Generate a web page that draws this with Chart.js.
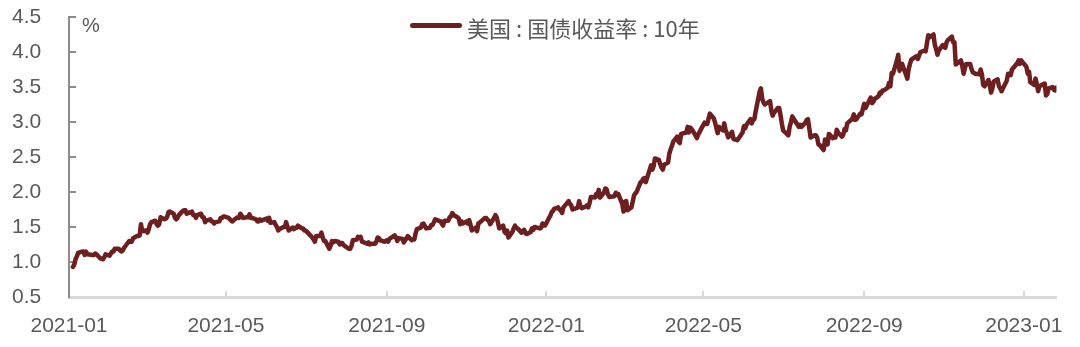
<!DOCTYPE html>
<html>
<head>
<meta charset="utf-8">
<script src="https://cdn.jsdelivr.net/npm/chart.js@4.4.0/dist/chart.umd.min.js"></script>
<style>
  html, body { margin: 0; padding: 0; background: #fff; }
  #wrap { position: relative; width: 1080px; height: 347px; }
  #legend { position: absolute; left: 410px; top: 12px; height: 30px; display: flex; align-items: center;
            font: 22px "Noto Sans CJK SC", sans-serif; color: #595959; white-space: nowrap; }
  #legend .swatch { display: inline-block; width: 52px; height: 5px; border-radius: 3px; background: #6d1f1f; margin-right: 5px; margin-top: -4px; }
  #legend .colon { margin: 0 5px; }
  #unit { position: absolute; left: 82px; top: 15px; font: 20px "Liberation Sans", sans-serif; line-height: 20px; color: #595959; }
</style>
</head>
<body>
<div id="wrap">
  <canvas id="chart" width="1080" height="347"></canvas>
  <div id="unit">%</div>
  <div id="legend"><span class="swatch"></span><span id="legendText"></span></div>
</div>
<script>
// series name + x-axis month labels
const seriesName = '美国:国债收益率:10年';
const tickLabels = ['2021-01', '2021-05', '2021-09', '2022-01', '2022-05', '2022-09', '2023-01'];
const yTicks = [0.5, 4.5, 0.5]; // min, max, step

// trading days (MM-DD) and 10y yields (%), one line per month
const dates2021 = [
  '01-04','01-05','01-06','01-07','01-08','01-11','01-12','01-13','01-14','01-15','01-19','01-20','01-21','01-22','01-25','01-26','01-27','01-28','01-29',
  '02-01','02-02','02-03','02-04','02-05','02-08','02-09','02-10','02-11','02-12','02-16','02-17','02-18','02-19','02-22','02-23','02-24','02-25','02-26',
  '03-01','03-02','03-03','03-04','03-05','03-08','03-09','03-10','03-11','03-12','03-15','03-16','03-17','03-18','03-19','03-22','03-23','03-24','03-25','03-26','03-29','03-30','03-31',
  '04-01','04-05','04-06','04-07','04-08','04-09','04-12','04-13','04-14','04-15','04-16','04-19','04-20','04-21','04-22','04-23','04-26','04-27','04-28','04-29','04-30',
  '05-03','05-04','05-05','05-06','05-07','05-10','05-11','05-12','05-13','05-14','05-17','05-18','05-19','05-20','05-21','05-24','05-25','05-26','05-27','05-28',
  '06-01','06-02','06-03','06-04','06-07','06-08','06-09','06-10','06-11','06-14','06-15','06-16','06-17','06-18','06-21','06-22','06-23','06-24','06-25','06-28','06-29','06-30',
  '07-01','07-02','07-06','07-07','07-08','07-09','07-12','07-13','07-14','07-15','07-16','07-19','07-20','07-21','07-22','07-23','07-26','07-27','07-28','07-29','07-30',
  '08-02','08-03','08-04','08-05','08-06','08-09','08-10','08-11','08-12','08-13','08-16','08-17','08-18','08-19','08-20','08-23','08-24','08-25','08-26','08-27','08-30','08-31',
  '09-01','09-02','09-03','09-07','09-08','09-09','09-10','09-13','09-14','09-15','09-16','09-17','09-20','09-21','09-22','09-23','09-24','09-27','09-28','09-29','09-30',
  '10-01','10-04','10-05','10-06','10-07','10-08','10-12','10-13','10-14','10-15','10-18','10-19','10-20','10-21','10-22','10-25','10-26','10-27','10-28','10-29',
  '11-01','11-02','11-03','11-04','11-05','11-08','11-09','11-10','11-12','11-15','11-16','11-17','11-18','11-19','11-22','11-23','11-24','11-26','11-29','11-30',
  '12-01','12-02','12-03','12-06','12-07','12-08','12-09','12-10','12-13','12-14','12-15','12-16','12-17','12-20','12-21','12-22','12-23','12-27','12-28','12-29','12-30','12-31'
];
const yields2021 = [
  0.93,0.96,1.04,1.08,1.13,1.15,1.15,1.10,1.15,1.11,1.10,1.10,1.12,1.11,1.05,1.05,1.04,1.07,1.11,
  1.09,1.12,1.15,1.15,1.19,1.19,1.17,1.15,1.16,1.20,1.30,1.29,1.29,1.34,1.37,1.37,1.38,1.54,1.44,
  1.45,1.42,1.47,1.54,1.57,1.59,1.54,1.52,1.54,1.64,1.61,1.62,1.64,1.71,1.72,1.69,1.63,1.61,1.63,1.67,1.73,1.74,1.74,
  1.69,1.72,1.67,1.67,1.63,1.67,1.69,1.64,1.64,1.57,1.59,1.61,1.58,1.58,1.55,1.57,1.58,1.63,1.63,1.65,1.65,
  1.63,1.61,1.59,1.58,1.60,1.64,1.63,1.69,1.66,1.63,1.64,1.64,1.68,1.63,1.63,1.61,1.58,1.58,1.61,1.59,
  1.62,1.59,1.63,1.56,1.57,1.53,1.50,1.45,1.47,1.50,1.50,1.57,1.51,1.45,1.49,1.47,1.49,1.49,1.52,1.48,1.48,1.45,
  1.45,1.43,1.35,1.32,1.29,1.37,1.37,1.42,1.35,1.30,1.30,1.19,1.23,1.30,1.28,1.30,1.29,1.25,1.27,1.27,1.24,
  1.20,1.19,1.19,1.23,1.31,1.32,1.36,1.35,1.36,1.29,1.27,1.26,1.28,1.25,1.26,1.26,1.29,1.35,1.34,1.31,1.29,1.30,
  1.31,1.29,1.33,1.38,1.35,1.30,1.34,1.33,1.28,1.31,1.34,1.37,1.31,1.32,1.32,1.41,1.47,1.49,1.54,1.55,1.52,
  1.48,1.49,1.53,1.53,1.57,1.61,1.58,1.55,1.52,1.59,1.59,1.64,1.65,1.70,1.67,1.64,1.62,1.54,1.58,1.55,
  1.58,1.55,1.60,1.53,1.45,1.49,1.44,1.55,1.58,1.63,1.63,1.60,1.59,1.54,1.63,1.67,1.64,1.48,1.52,1.43,
  1.41,1.45,1.35,1.43,1.48,1.52,1.49,1.48,1.42,1.44,1.46,1.41,1.40,1.43,1.48,1.46,1.50,1.48,1.49,1.55,1.52,1.52
];

const dates2022 = [
  '01-03','01-04','01-05','01-06','01-07','01-10','01-11','01-12','01-13','01-14','01-18','01-19','01-20','01-21','01-24','01-25','01-26','01-27','01-28','01-31',
  '02-01','02-02','02-03','02-04','02-07','02-08','02-09','02-10','02-11','02-14','02-15','02-16','02-17','02-18','02-22','02-23','02-24','02-25','02-28',
  '03-01','03-02','03-03','03-04','03-07','03-08','03-09','03-10','03-11','03-14','03-15','03-16','03-17','03-18','03-21','03-22','03-23','03-24','03-25','03-28','03-29','03-30','03-31',
  '04-01','04-04','04-05','04-06','04-07','04-08','04-11','04-12','04-13','04-14','04-18','04-19','04-20','04-21','04-22','04-25','04-26','04-27','04-28','04-29',
  '05-02','05-03','05-04','05-05','05-06','05-09','05-10','05-11','05-12','05-13','05-16','05-17','05-18','05-19','05-20','05-23','05-24','05-25','05-26','05-27','05-31',
  '06-01','06-02','06-03','06-06','06-07','06-08','06-09','06-10','06-13','06-14','06-15','06-16','06-17','06-21','06-22','06-23','06-24','06-27','06-28','06-29','06-30',
  '07-01','07-05','07-06','07-07','07-08','07-11','07-12','07-13','07-14','07-15','07-18','07-19','07-20','07-21','07-22','07-25','07-26','07-27','07-28','07-29',
  '08-01','08-02','08-03','08-04','08-05','08-08','08-09','08-10','08-11','08-12','08-15','08-16','08-17','08-18','08-19','08-22','08-23','08-24','08-25','08-26','08-29','08-30','08-31',
  '09-01','09-02','09-06','09-07','09-08','09-09','09-12','09-13','09-14','09-15','09-16','09-19','09-20','09-21','09-22','09-23','09-26','09-27','09-28','09-29','09-30',
  '10-03','10-04','10-05','10-06','10-07','10-11','10-12','10-13','10-14','10-17','10-18','10-19','10-20','10-21','10-24','10-25','10-26','10-27','10-28','10-31',
  '11-01','11-02','11-03','11-04','11-07','11-08','11-09','11-10','11-14','11-15','11-16','11-17','11-18','11-21','11-22','11-23','11-25','11-28','11-29','11-30',
  '12-01','12-02','12-05','12-06','12-07','12-08','12-09','12-12','12-13','12-14','12-15','12-16','12-19','12-20','12-21','12-22','12-23','12-27','12-28','12-29','12-30'
];
const yields2022 = [
  1.63,1.66,1.71,1.73,1.76,1.78,1.75,1.74,1.70,1.78,1.87,1.83,1.81,1.75,1.77,1.78,1.87,1.80,1.77,1.79,
  1.81,1.78,1.84,1.93,1.92,1.97,1.94,2.03,1.92,1.99,2.05,2.04,1.97,1.93,1.94,1.99,1.96,1.97,1.83,
  1.72,1.86,1.87,1.74,1.78,1.86,1.95,1.98,2.00,2.14,2.15,2.19,2.20,2.14,2.32,2.38,2.32,2.37,2.48,2.46,2.40,2.35,2.32,
  2.39,2.42,2.55,2.61,2.66,2.72,2.79,2.72,2.70,2.83,2.85,2.93,2.85,2.92,2.90,2.81,2.77,2.82,2.85,2.89,
  2.99,2.97,2.97,3.05,3.12,3.05,2.99,2.91,2.84,2.93,2.88,2.98,2.89,2.84,2.78,2.86,2.76,2.75,2.75,2.74,2.85,
  2.94,2.91,2.96,3.04,2.98,3.03,3.04,3.15,3.43,3.48,3.33,3.28,3.25,3.30,3.16,3.09,3.13,3.20,3.20,3.10,2.98,
  2.88,2.81,2.93,3.00,3.08,2.99,2.96,2.93,2.96,2.93,2.99,3.03,3.04,2.91,2.78,2.81,2.81,2.78,2.68,2.67,
  2.60,2.75,2.73,2.68,2.83,2.77,2.79,2.78,2.89,2.85,2.79,2.82,2.90,2.88,2.98,3.03,3.05,3.11,3.03,3.04,3.12,3.11,3.19,
  3.26,3.20,3.35,3.27,3.29,3.33,3.37,3.42,3.41,3.45,3.45,3.49,3.56,3.51,3.70,3.69,3.88,3.96,3.73,3.79,3.83,
  3.67,3.62,3.76,3.83,3.89,3.94,3.90,3.95,4.00,4.02,4.01,4.13,4.24,4.21,4.25,4.10,4.04,3.96,4.02,4.10,
  4.07,4.06,4.14,4.17,4.22,4.14,4.14,3.82,3.88,3.80,3.69,3.77,3.83,3.83,3.76,3.71,3.69,3.68,3.75,3.68,
  3.53,3.51,3.60,3.53,3.42,3.48,3.58,3.61,3.51,3.48,3.44,3.48,3.59,3.69,3.68,3.67,3.75,3.84,3.88,3.83,3.88
];

const dates2023 = ['01-03','01-04','01-05','01-06','01-09','01-10','01-11','01-12','01-13','01-17','01-18','01-19','01-20','01-23','01-24','01-25','01-26'];
const yields2023 = [3.79,3.69,3.72,3.57,3.53,3.62,3.54,3.44,3.51,3.55,3.38,3.40,3.48,3.50,3.46,3.45,3.49];

// days since 2021-01-01, used as the x value
function dayIndex(str) {
  const [y, m, d] = str.split('-').map(Number);
  return (Date.UTC(y, m - 1, d || 1) - Date.UTC(2021, 0, 1)) / 86400000;
}

function toPoints(year, dates, vals) {
  if (dates.length !== vals.length) console.warn('length mismatch', year, dates.length, vals.length);
  return dates.map((d, i) => ({ x: dayIndex(year + '-' + d), y: vals[i] }));
}

const points = [
  ...toPoints(2021, dates2021, yields2021),
  ...toPoints(2022, dates2022, yields2022),
  ...toPoints(2023, dates2023, yields2023)
];
const tickDays = tickLabels.map(t => dayIndex(t));

document.getElementById('legendText').innerHTML =
  seriesName.split(':').join('<span class="colon">:</span>');

const LINE = '#6d1f1f';
const TEXT = '#595959';

// small tick marks drawn inside the plot, like the original
const innerTicks = {
  id: 'innerTicks',
  beforeDatasetsDraw(chart) {
    const { ctx, scales: { x, y } } = chart;
    ctx.save();
    ctx.lineWidth = 2;
    ctx.strokeStyle = '#8c8c8c';
    y.ticks.forEach((t, i) => {
      if (t.value === yTicks[0]) return;
      const py = Math.round(y.getPixelForTick(i));
      ctx.beginPath(); ctx.moveTo(y.right, py); ctx.lineTo(y.right + 7, py); ctx.stroke();
    });
    ctx.strokeStyle = '#d9d9d9';
    x.ticks.forEach((t, i) => {
      if (i === 0) return;
      const px = Math.round(x.getPixelForTick(i));
      ctx.beginPath(); ctx.moveTo(px, x.top); ctx.lineTo(px, x.top - 6); ctx.stroke();
    });
    ctx.restore();
  }
};

new Chart(document.getElementById('chart'), {
  type: 'line',
  data: {
    datasets: [{
      label: seriesName,
      data: points,
      borderColor: LINE,
      backgroundColor: LINE,
      borderWidth: 4.5,
      pointRadius: 0,
      tension: 0,
      borderJoinStyle: 'round',
      borderCapStyle: 'round'
    }]
  },
  options: {
    responsive: false,
    animation: false,
    layout: { padding: { top: 17, right: 21, left: 12, bottom: 0 } },
    plugins: { legend: { display: false }, tooltip: { enabled: false } },
    scales: {
      x: {
        type: 'linear',
        min: 0,
        max: points[points.length - 1].x,
        afterBuildTicks: s => { s.ticks = tickDays.map(v => ({ value: v })); },
        afterFit: s => { s.height = 50; },
        grid: { display: false, drawTicks: false },
        border: { display: true, color: '#d9d9d9', width: 3 },
        ticks: {
          autoSkip: false, maxRotation: 0, padding: 17, color: TEXT,
          font: { family: 'Liberation Sans', size: 21 },
          callback: (v, i) => tickLabels[i]
        }
      },
      y: {
        min: yTicks[0],
        max: yTicks[1],
        afterFit: s => { s.width = 57; },
        grid: { display: false, drawTicks: false },
        border: { display: true, color: '#8c8c8c', width: 2 },
        ticks: {
          stepSize: yTicks[2], padding: 0, crossAlign: 'far', color: TEXT,
          font: { family: 'Liberation Sans', size: 21 },
          callback: v => v.toFixed(1)
        }
      }
    }
  },
  plugins: [innerTicks]
});
</script>
</body>
</html>
